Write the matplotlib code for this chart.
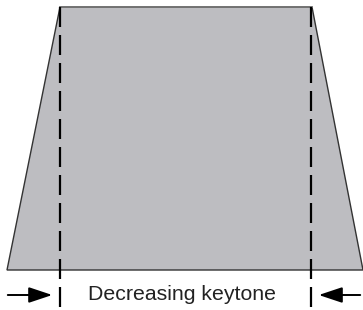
import matplotlib.pyplot as plt
from matplotlib.patches import Polygon

# trapezoid outline (pixel-like coordinates, y downwards)
shape_x = [7, 60, 312, 363]
shape_y = [270, 7, 7, 270]
marker_x = [60, 311]
label = 'Decreasing keytone'

fig = plt.figure(figsize=(3.63, 3.10), dpi=100)
ax = fig.add_axes([0, 0, 1, 1])
ax.set_xlim(0, 363)
ax.set_ylim(310, 0)
ax.axis('off')

poly = Polygon(list(zip(shape_x, shape_y)), closed=True, facecolor='#bdbdc1',
               edgecolor='#333333', linewidth=1.0)
ax.add_patch(poly)
ax.plot(shape_x[1:3], shape_y[1:3], color='#777777', linewidth=1.2)

for x in marker_x:
    ax.plot([x, x], [7, 309], color='black', linewidth=1.6, linestyle=(0, (9, 3.6)))

ax.annotate('', xy=(55, 295), xytext=(5, 295),
            arrowprops=dict(arrowstyle='-|>,head_length=0.9,head_width=0.3',
                            color='black', lw=1.4, mutation_scale=16))
ax.annotate('', xy=(316, 295), xytext=(363, 295),
            arrowprops=dict(arrowstyle='-|>,head_length=0.9,head_width=0.3',
                            color='black', lw=1.4, mutation_scale=16))

ax.text(182, 295, label, ha='center', va='center', fontsize=15.3,
        family='Liberation Sans', color='#222222')

fig.savefig('out.png', dpi=100)
